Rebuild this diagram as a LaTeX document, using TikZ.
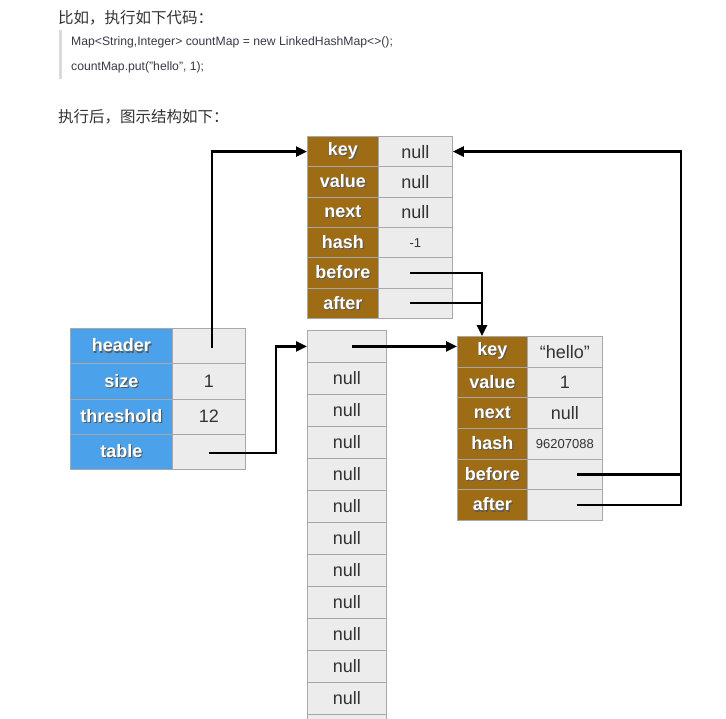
\documentclass[tikz,border=0pt]{standalone}
\usepackage{fontspec}
\setmainfont{Liberation Sans}
\newfontfamily\cjk{Noto Sans CJK SC}
\usetikzlibrary{arrows.meta,calc}
\definecolor{brownc}{HTML}{9E6C14}
\definecolor{bluec}{HTML}{4BA2EA}
\definecolor{cellc}{HTML}{ECECEC}
\definecolor{cellb}{HTML}{A8A8A8}
\definecolor{txtc}{HTML}{333333}
\definecolor{codec}{HTML}{3A3A48}
\newcommand\shtext[1]{\makebox[0pt][l]{\raisebox{-1.2pt}{\hspace{1.1pt}\textcolor{black!65}{#1}}}#1}
\begin{document}
\begin{tikzpicture}[x=1pt,y=-1pt,
  cellbase/.style={draw=cellb, line width=0.8pt, inner sep=0pt, anchor=north west},
  labbrown/.style={cellbase, fill=brownc, text=white, font=\fontsize{18}{18}\selectfont\bfseries, minimum width=71pt},
  labblue/.style={cellbase, fill=bluec, text=white, font=\fontsize{18}{18}\selectfont\bfseries},
  valcell/.style={cellbase, fill=cellc, text=txtc, font=\fontsize{18}{18}\selectfont},
  smallval/.style={valcell, font=\fontsize{13}{13}\selectfont},
  conn/.style={line width=2.5pt, line join=miter, -{Triangle[length=11pt,width=10pt]}},
  plain/.style={line width=2.5pt, line join=miter},
  cjktext/.style={anchor=west, inner sep=0pt, text=txtc, font=\cjk\fontsize{15.5}{15.5}\selectfont},
  codetext/.style={anchor=west, inner sep=0pt, text=codec, font=\fontsize{12.2}{12.2}\selectfont}
]
\useasboundingbox (0,0) rectangle (726,718);
\clip (0,0) rectangle (726,718);
\fill[white] (0,0) rectangle (726,718);

% text above
\node[cjktext] (t1) at (58,18) {比如，执行如下代码：};
\fill[black!14] (59,30) rectangle (62,79);
\node[codetext] (c1) at (71,42) {Map<String,Integer> countMap = new LinkedHashMap<>();};
\node[codetext] (c2) at (71,67) {countMap.put("hello", 1);};
\node[cjktext] (t2) at (58,117) {执行后，图示结构如下：};

% top (header) entry
\def\rh{30.33}
\foreach \n/\lab [count=\i from 0] in {k/key,v/value,n/next,h/hash,b/before,a/after}{
  \node[labbrown, minimum height=\rh pt] (t\n) at (307,136+\i*\rh) {\shtext{\lab}};
}
\node[valcell, minimum width=74pt, minimum height=\rh pt] (tkv) at (378,136) {null};
\node[valcell, minimum width=74pt, minimum height=\rh pt] (tvv) at (378,136+\rh) {null};
\node[valcell, minimum width=74pt, minimum height=\rh pt] (tnv) at (378,136+2*\rh) {null};
\node[smallval, minimum width=74pt, minimum height=\rh pt] (thv) at (378,136+3*\rh) {-1};
\node[valcell, minimum width=74pt, minimum height=\rh pt] (tbv) at (378,136+4*\rh) {};
\node[valcell, minimum width=74pt, minimum height=\rh pt] (tav) at (378,136+5*\rh) {};

% left map object
\def\lh{35.25}
\foreach \n/\lab [count=\i from 0] in {h/header,s/size,t/threshold,b/table}{
  \node[labblue, minimum width=102pt, minimum height=\lh pt] (m\n) at (70,328+\i*\lh) {\shtext{\lab}};
}
\node[valcell, minimum width=73pt, minimum height=\lh pt] (mhv) at (172,328) {};
\node[valcell, minimum width=73pt, minimum height=\lh pt] (msv) at (172,328+\lh) {1};
\node[valcell, minimum width=73pt, minimum height=\lh pt] (mtv) at (172,328+2*\lh) {12};
\node[valcell, minimum width=73pt, minimum height=\lh pt] (mbv) at (172,328+3*\lh) {};

% table array
\node[valcell, minimum width=79pt, minimum height=32pt] (a0) at (307,330) {};
\foreach \i in {1,...,12}{
  \node[valcell, minimum width=79pt, minimum height=32pt] (a\i) at (307,330+\i*32) {\ifnum\i<12 null\fi};
}

% hello entry
\def\hh{30.67}
\foreach \n/\lab [count=\i from 0] in {k/key,v/value,n/next,h/hash,b/before,a/after}{
  \node[labbrown, minimum width=70pt, minimum height=\hh pt] (h\n) at (457,336+\i*\hh) {\shtext{\lab}};
}
\node[valcell, minimum width=75pt, minimum height=\hh pt] (hkv) at (527,336) {“hello”};
\node[valcell, minimum width=75pt, minimum height=\hh pt] (hvv) at (527,336+\hh) {1};
\node[valcell, minimum width=75pt, minimum height=\hh pt] (hnv) at (527,336+2*\hh) {null};
\node[smallval, minimum width=75pt, minimum height=\hh pt] (hhv) at (527,336+3*\hh) {96207088};
\node[valcell, minimum width=75pt, minimum height=\hh pt] (hbv) at (527,336+4*\hh) {};
\node[valcell, minimum width=75pt, minimum height=\hh pt] (hav) at (527,336+5*\hh) {};

% connectors
\coordinate (hin) at ($(hk.north west)+(25,0)$);
\coordinate (rt) at (681,0);
\coordinate (lj) at (276,0);

\draw[conn] ($(mhv.center)+(3,2)$) |- (tk.west);
\draw[conn] ($(mbv.center)+(0,1)$) -- ($(mbv.center -| lj)+(0,1)$) |- (a0.west);
\draw[conn] ($(a0.center)+(5,0)$) -- (a0.center -| hk.west);
\draw[plain] ($(tav.center)+(-5,0)$) -- (tav.center -| hin) -- (tbv.center -| hin);
\draw[conn] ($(tbv.center)+(-5,0)$) -| (hin);
\draw[plain] ($(hav.center)+(12,0)$) -- (hav.center -| rt) -- (hbv.center -| rt);
\draw[conn] ($(hbv.center)+(12,0)$) -- (hbv.center -| rt) |- (tkv.east);
\end{tikzpicture}
\end{document}
